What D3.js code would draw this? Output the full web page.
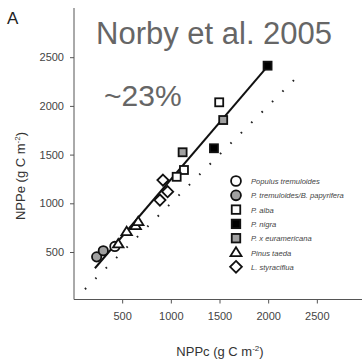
<!DOCTYPE html>
<html><head><meta charset="utf-8">
<script src="https://cdn.jsdelivr.net/npm/d3@7"></script>
<style>
body{margin:0;background:#fff;}
svg{display:block;font-family:"Liberation Sans",Arial,sans-serif;}
</style></head>
<body><svg id="c" width="362" height="362"></svg>
<script>
const xTicks = [500, 1000, 1500, 2000, 2500];
const yTicks = [500, 1000, 1500, 2000, 2500];
const species = ["Populus tremuloides", "P. tremuloides/B. papyrifera", "P. alba", "P. nigra", "P. x euramericana", "Pinus taeda", "L. styraciflua"];
const shapes = ["circle", "circle", "square", "square", "square", "triangle", "diamond"];
const fills = ["#fff", "#a0a0a0", "#fff", "#000", "#a0a0a0", "#fff", "#fff"];
const pointSpecies = [0, 1, 1, 2, 2, 2, 3, 3, 4, 4, 5, 5, 5, 5, 6, 6, 6];
const nppc = [425, 238, 306, 1497, 1135, 1060, 1994, 1443, 1538, 1121, 460, 546, 639, 665, 919, 967, 888];
const nppe = [557, 450, 513, 2037, 1342, 1272, 2413, 1565, 1855, 1524, 582, 708, 770, 811, 1238, 1119, 1033];
const fitX = [220, 2000];
const fitY = [333, 2413];
const oneToOne = [118, 2290];

const svg = d3.select("#c");
const x = d3.scaleLinear().domain([0, 3000]).range([73.5, 365.5]);
const y = d3.scaleLinear().domain([0, 3000]).range([300.7, 8.5]);
const fmt = d3.format("d");

// axes
const gx = svg.append("g").attr("transform", "translate(0,299.5)")
  .call(d3.axisBottom(x).tickValues(xTicks).tickFormat(fmt).tickSize(4).tickPadding(9));
const gy = svg.append("g").attr("transform", "translate(74,0)")
  .call(d3.axisLeft(y).tickValues(yTicks).tickFormat(fmt).tickSize(4).tickPadding(6));
[gx, gy].forEach(g => {
  g.select(".domain").remove();
  g.selectAll(".tick line").attr("stroke", "#555");
  g.selectAll(".tick text").attr("fill", "#444").attr("font-size", 11).attr("font-family", "Liberation Sans, Arial, sans-serif");
});
svg.append("line").attr("x1", 74).attr("x2", 362).attr("y1", 299.5).attr("y2", 299.5).attr("stroke", "#555").attr("stroke-width", 1);
svg.append("line").attr("x1", 74).attr("x2", 74).attr("y1", 8).attr("y2", 299.5).attr("stroke", "#555").attr("stroke-width", 1);

// 1:1 dotted line
svg.append("line")
  .attr("x1", x(oneToOne[0])).attr("y1", y(oneToOne[0]))
  .attr("x2", x(oneToOne[1])).attr("y2", y(oneToOne[1]))
  .attr("stroke", "#222").attr("stroke-width", 2)
  .attr("stroke-dasharray", "1.6,13.1").attr("stroke-linecap", "butt");

// regression line
svg.append("line")
  .attr("x1", x(fitX[0])).attr("y1", y(fitY[0]))
  .attr("x2", x(fitX[1])).attr("y2", y(fitY[1]))
  .attr("stroke", "#111").attr("stroke-width", 2);

function drawShape(g, shape, cx, cy, fill, s) {
  const sw = 1.8, stroke = "#111";
  if (shape === "circle") {
    g.append("circle").attr("cx", cx).attr("cy", cy).attr("r", s * 0.52).attr("fill", fill).attr("stroke", stroke).attr("stroke-width", sw);
  } else if (shape === "square") {
    g.append("rect").attr("x", cx - s / 2 + 0.5).attr("y", cy - s / 2 + 0.5).attr("width", s - 1).attr("height", s - 1).attr("fill", fill).attr("stroke", stroke).attr("stroke-width", sw);
  } else if (shape === "triangle") {
    const h = s * 0.9;
    g.append("path").attr("d", `M${cx},${cy - h * 0.62}L${cx + s * 0.58},${cy + h * 0.42}L${cx - s * 0.58},${cy + h * 0.42}Z`).attr("fill", fill).attr("stroke", stroke).attr("stroke-width", sw);
  } else {
    const r = s * 0.62;
    g.append("path").attr("d", `M${cx},${cy - r}L${cx + r},${cy}L${cx},${cy + r}L${cx - r},${cy}Z`).attr("fill", fill).attr("stroke", stroke).attr("stroke-width", sw);
  }
}

const pts = svg.append("g");
pointSpecies.forEach((sp, i) => {
  drawShape(pts, shapes[sp], x(nppc[i]), y(nppe[i]), fills[sp], 9);
});

// legend
const lg = svg.append("g");
species.forEach((name, i) => {
  const ly = 181 + i * 14.3;
  drawShape(lg, shapes[i], 236, ly, fills[i], 9.5);
  lg.append("text").attr("x", 251).attr("y", ly + 3).attr("font-size", 7.6).attr("font-style", "italic").attr("fill", "#444").text(name);
});

// titles
svg.append("text").attr("x", 7).attr("y", 24).attr("font-size", 17).attr("fill", "#222").text("A");
svg.append("text").attr("x", 96).attr("y", 44).attr("font-size", 31).attr("fill", "#666").text("Norby et al. 2005");
svg.append("text").attr("x", 104).attr("y", 106).attr("font-size", 30).attr("fill", "#666").text("~23%");

const xt = svg.append("text").attr("x", 220).attr("y", 356).attr("text-anchor", "middle").attr("font-size", 13).attr("fill", "#333");
xt.append("tspan").text("NPPc (g C m");
xt.append("tspan").attr("dy", -5).attr("font-size", 8).text("-2");
xt.append("tspan").attr("dy", 5).text(")");

const yt = svg.append("text").attr("transform", "translate(25,176) rotate(-90)").attr("text-anchor", "middle").attr("font-size", 13).attr("fill", "#333");
yt.append("tspan").text("NPPe (g C m");
yt.append("tspan").attr("dy", -5).attr("font-size", 8).text("-2");
yt.append("tspan").attr("dy", 5).text(")");
</script></body></html>
